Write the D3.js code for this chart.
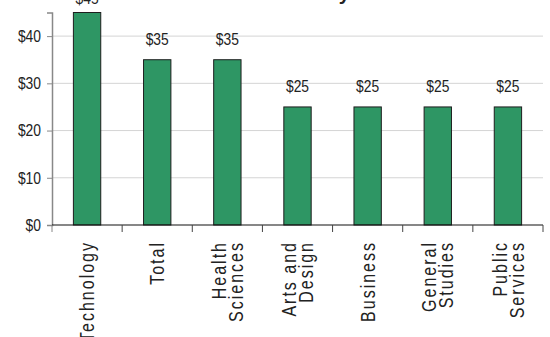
<!DOCTYPE html>
<html>
<head>
<meta charset="utf-8">
<script src="https://cdn.jsdelivr.net/npm/d3@7"></script>
<style>
  body { margin: 0; background: #fff; }
  svg text { font-family: "Liberation Sans", Arial, sans-serif; fill: #222; }
</style>
</head>
<body>
<svg class="chart"></svg>
<script>
let width = 550;
let height = 337;

// categories and values
let categories = ["Technology", "Total", "Health Sciences", "Arts and Design", "Business", "General Studies", "Public Services"];
let labelLines = [["Technology"], ["Total"], ["Health", "Sciences"], ["Arts and", "Design"], ["Business"], ["General", "Studies"], ["Public", "Services"]];
let values = [45, 35, 35, 25, 25, 25, 25];
let yTicks = [0, 10, 20, 30, 40];

let plotLeft = 52, plotRight = 543, plotTop = 12.5, plotBottom = 225;
// the original uses a narrow face; squeeze Liberation Sans horizontally instead
let narrow = "scale(0.84,1)";

let svg = d3.select(".chart")
  .attr("width", width)
  .attr("height", height);

let x = d3.scaleBand()
  .domain(categories)
  .range([plotLeft, plotRight]);

let y = d3.scaleLinear()
  .domain([0, 45])
  .range([plotBottom, plotTop]);

// title, mostly cut off at the top of the frame
svg.append("text")
  .attr("x", 350)
  .attr("y", 0)
  .attr("text-anchor", "end")
  .style("font-weight", "bold")
  .style("font-size", "20px")
  .text("Median Hourly");

// grid lines
svg.append("g")
  .selectAll("line")
  .data(yTicks.filter(d => d > 0))
  .enter().append("line")
  .attr("x1", plotLeft)
  .attr("x2", plotRight)
  .attr("y1", d => y(d))
  .attr("y2", d => y(d))
  .attr("stroke", "#d4d4d4")
  .attr("stroke-width", 1);

// y axis
let yAxis = svg.append("g")
  .attr("transform", "translate(" + plotLeft + ",0)")
  .call(d3.axisLeft(y).tickValues(yTicks).tickSize(5).tickPadding(4).tickFormat(d => "$" + d));
yAxis.select(".domain").attr("stroke", "#888").attr("stroke-width", 1.5);
yAxis.selectAll(".tick line").attr("stroke", "#888");
yAxis.selectAll("text")
  .attr("x", 0)
  .attr("transform", "translate(-11,0) " + narrow)
  .style("font-size", "16.5px")
  .attr("fill", "#222");

// bars
let barW = x.bandwidth() * 0.39;
svg.append("g")
  .selectAll("rect")
  .data(values)
  .enter().append("rect")
  .attr("x", (d, i) => x(categories[i]) + x.bandwidth() / 2 - barW / 2)
  .attr("y", d => y(d))
  .attr("width", barW)
  .attr("height", d => y(0) - y(d))
  .attr("fill", "#2e9664")
  .attr("stroke", "#1e1e1e")
  .attr("stroke-width", 1);

// value labels
svg.append("g")
  .selectAll("text")
  .data(values)
  .enter().append("text")
  .attr("transform", (d, i) => "translate(" + (x(categories[i]) + x.bandwidth() / 2) + "," + Math.max(y(d) - 15, 3.5) + ") " + narrow)
  .attr("text-anchor", "middle")
  .style("font-size", "16.5px")
  .text(d => "$" + d);

// x axis line and ticks at band edges
svg.append("line")
  .attr("x1", plotLeft)
  .attr("x2", plotRight)
  .attr("y1", plotBottom)
  .attr("y2", plotBottom)
  .attr("stroke", "#111")
  .attr("stroke-width", 1.2);

let edges = categories.map(c => x(c)).concat([plotRight]);
svg.append("g")
  .selectAll("line")
  .data(edges)
  .enter().append("line")
  .attr("x1", d => d)
  .attr("x2", d => d)
  .attr("y1", plotBottom)
  .attr("y2", plotBottom + 7)
  .attr("stroke", (d, i) => i === 0 ? "#888" : "#444")
  .attr("stroke-width", 1);

// rotated category labels
let lab = svg.append("g")
  .selectAll("text")
  .data(labelLines)
  .enter().append("text")
  .attr("transform", (d, i) => "translate(" + (x(categories[i]) + x.bandwidth() / 2) + ",241) rotate(-90) scale(0.8,1)")
  .attr("text-anchor", "end")
  .style("font-size", "20px")
  .style("letter-spacing", "2.5px");

lab.selectAll("tspan")
  .data(d => d.map((t, j) => ({ t: t, off: (j - (d.length - 1) / 2) * 17 })))
  .enter().append("tspan")
  .attr("x", 0)
  .attr("y", d => d.off)
  .attr("dy", "0.36em")
  .text(d => d.t);
</script>
</body>
</html>
